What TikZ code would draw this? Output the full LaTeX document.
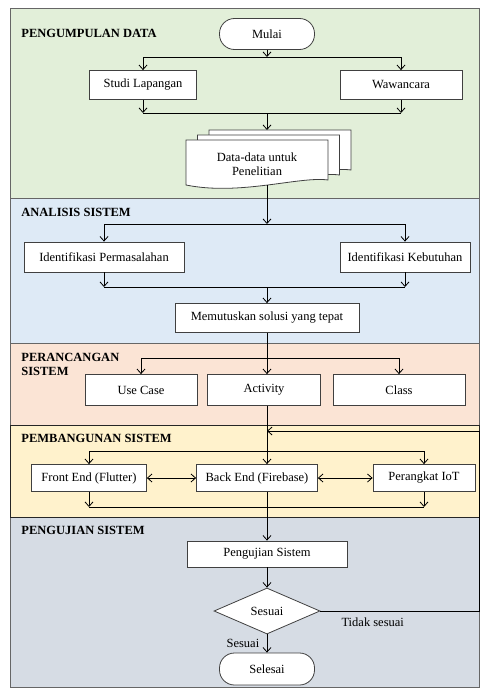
\documentclass[tikz,border=0pt]{standalone}
\usepackage{fontspec}
\setmainfont{Liberation Serif}
\usetikzlibrary{positioning,shapes.geometric,arrows.meta}

\definecolor{hijau}{HTML}{E2EFD9}
\definecolor{biru}{HTML}{DEEAF6}
\definecolor{jingga}{HTML}{FBE4D5}
\definecolor{kuning}{HTML}{FFF2CC}
\definecolor{abu}{HTML}{D6DCE4}

\begin{document}
\begin{tikzpicture}[x=1pt,y=-1pt,on grid,
	>={Straight Barb[length=4.5pt,width=8pt]},
	font=\fontsize{12.5}{14}\selectfont,
	every path/.style={line width=0.8pt},
	box/.style={draw=black!75,fill=white,minimum height=29pt,inner sep=2pt},
	term/.style={box,rounded corners=15pt,minimum width=95pt,minimum height=31pt},
	cek/.style={draw=black!75,fill=white,diamond,aspect=2,minimum width=106pt,minimum height=46pt,inner sep=0pt},
	bagian/.style={draw=black!60},
	judul/.style={font=\fontsize{12.5}{14}\selectfont\bfseries,anchor=west,align=left,inner sep=0pt}]
	\useasboundingbox (0,0) rectangle (482,688);

	\draw[bagian,fill=hijau] (10,8) rectangle (479,198);
	\draw[bagian,fill=biru] (10,198) rectangle (479,343);
	\draw[bagian,fill=jingga] (10,343) rectangle (479,425);
	\draw[bagian,fill=abu] (10,517) rectangle (479,687);
	\draw[draw=black!85,fill=kuning] (10,425) rectangle (479,517);

	\node[judul] (t1) at (21,33) {PENGUMPULAN DATA};
	\node[judul] (t2) at (21,212) {ANALISIS SISTEM};
	\node[judul] (t3) at (21,364) {PERANCANGAN\\SISTEM};
	\node[judul] (t4) at (21,438) {PEMBANGUNAN SISTEM};
	\node[judul] (t5) at (21,530) {PENGUJIAN SISTEM};

	\node[term] (mulai) at (267,34) {Mulai};
	\node[box,minimum width=107pt] (studi) [below left=51pt and 124pt of mulai] {Studi Lapangan};
	\node[box,minimum width=122pt] (wawan) [right=258pt of studi] {Wawancara};

	\foreach \dx/\dy in {23/-10,11.5/-5,0/0}
		\draw[draw=black!75,fill=white,shift={(\dx,\dy)}] (186,140) -- (328,140) -- (328,180)
			.. controls (300,176) and (240,196) .. (186,185) -- cycle;
	\node[align=center] (data) at (257,164) {Data-data untuk\\Penelitian};
	\coordinate (dokatas) at (267,130);
	\coordinate (dokbawah) at (267,185);

	\node[box,minimum width=160pt,minimum height=30pt] (idperm) at (104,257) {Identifikasi Permasalahan};
	\node[box,minimum width=130pt,minimum height=30pt] (idkeb) [right=301pt of idperm] {Identifikasi Kebutuhan};
	\node[box,minimum width=184pt] (memut) at (267,318) {Memutuskan solusi yang tepat};

	\node[box,minimum width=113pt,minimum height=31pt] (activity) at (264,390) {Activity};
	\node[box,minimum width=112pt,minimum height=31pt] (usecase) [left=123pt of activity] {Use Case};
	\node[box,minimum width=132pt,minimum height=31pt] (class) [right=135pt of activity] {Class};

	\node[box,minimum width=121pt,minimum height=27pt] (back) at (257,478) {Back End (Firebase)};
	\node[box,minimum width=115pt,minimum height=27pt] (front) [left=168pt of back] {Front End (Flutter)};
	\node[box,minimum width=102pt,minimum height=27pt] (iot) [right=167pt of back] {Perangkat IoT};

	\node[box,minimum width=160pt,minimum height=26pt] (uji) at (267,554) {Pengujian Sistem};
	\node[cek] (sesuai) [below=57pt of uji] {Sesuai};
	\node[term,minimum height=32pt] (selesai) [below=58pt of sesuai] {Selesai};

	\coordinate (j1) at (mulai |- 0,57);
	\coordinate (j2) at (mulai |- 0,113);
	\coordinate (j3) at (mulai |- 0,224);
	\coordinate (j4) at (mulai |- 0,287);
	\coordinate (j5) at (mulai |- 0,358);
	\coordinate (j6) at (mulai |- 0,451);
	\coordinate (j7) at (mulai |- 0,507);
	\coordinate (masuk) at (mulai |- 0,431);
	\coordinate (balik) at (479,611);

	\draw[->] (mulai) -- (j1);
	\draw (j1 -| studi) -- (j1 -| wawan);
	\draw[->] (j1 -| studi) -- (studi);
	\draw[->] (j1 -| wawan) -- (wawan);
	\draw[->] (studi) -- (j2 -| studi);
	\draw[->] (wawan) -- (j2 -| wawan);
	\draw (j2 -| studi) -- (j2 -| wawan);
	\draw[->] (j2) -- (dokatas);

	\draw[->] (dokbawah) -- (j3);
	\draw (j3 -| idperm) -- (j3 -| idkeb);
	\draw[->] (j3 -| idperm) -- (idperm);
	\draw[->] (j3 -| idkeb) -- (idkeb);
	\draw[->] (idperm) -- (j4 -| idperm);
	\draw[->] (idkeb) -- (j4 -| idkeb);
	\draw (j4 -| idperm) -- (j4 -| idkeb);
	\draw[->] (j4) -- (memut);

	\draw[->] (memut) -- (activity.north -| mulai);
	\draw (j5 -| usecase) -- (j5 -| class);
	\draw[->] (j5 -| usecase) -- (usecase);
	\draw[->] (j5 -| class) -- (class);

	\draw[->] (activity.south -| mulai) -- (back.north -| mulai);
	\draw (j6 -| front) -- (j6 -| iot);
	\draw[->] (j6 -| front) -- (front);
	\draw[->] (j6 -| iot) -- (iot);
	\draw[<->] (front) -- (back);
	\draw[<->] (back) -- (iot);
	\draw[->] (front) -- (j7 -| front);
	\draw[->] (iot) -- (j7 -| iot);
	\draw (j7 -| front) -- (j7 -| iot);

	\draw[->] (back.south -| mulai) -- (uji);
	\draw[->] (uji) -- (sesuai);
	\draw[->] (sesuai) -- node[left=4pt] {Sesuai} (selesai);
	\draw[->] (sesuai.east) -- node[pos=0.33,below=3pt] {Tidak sesuai} (balik) |- (masuk);
\end{tikzpicture}
\end{document}
